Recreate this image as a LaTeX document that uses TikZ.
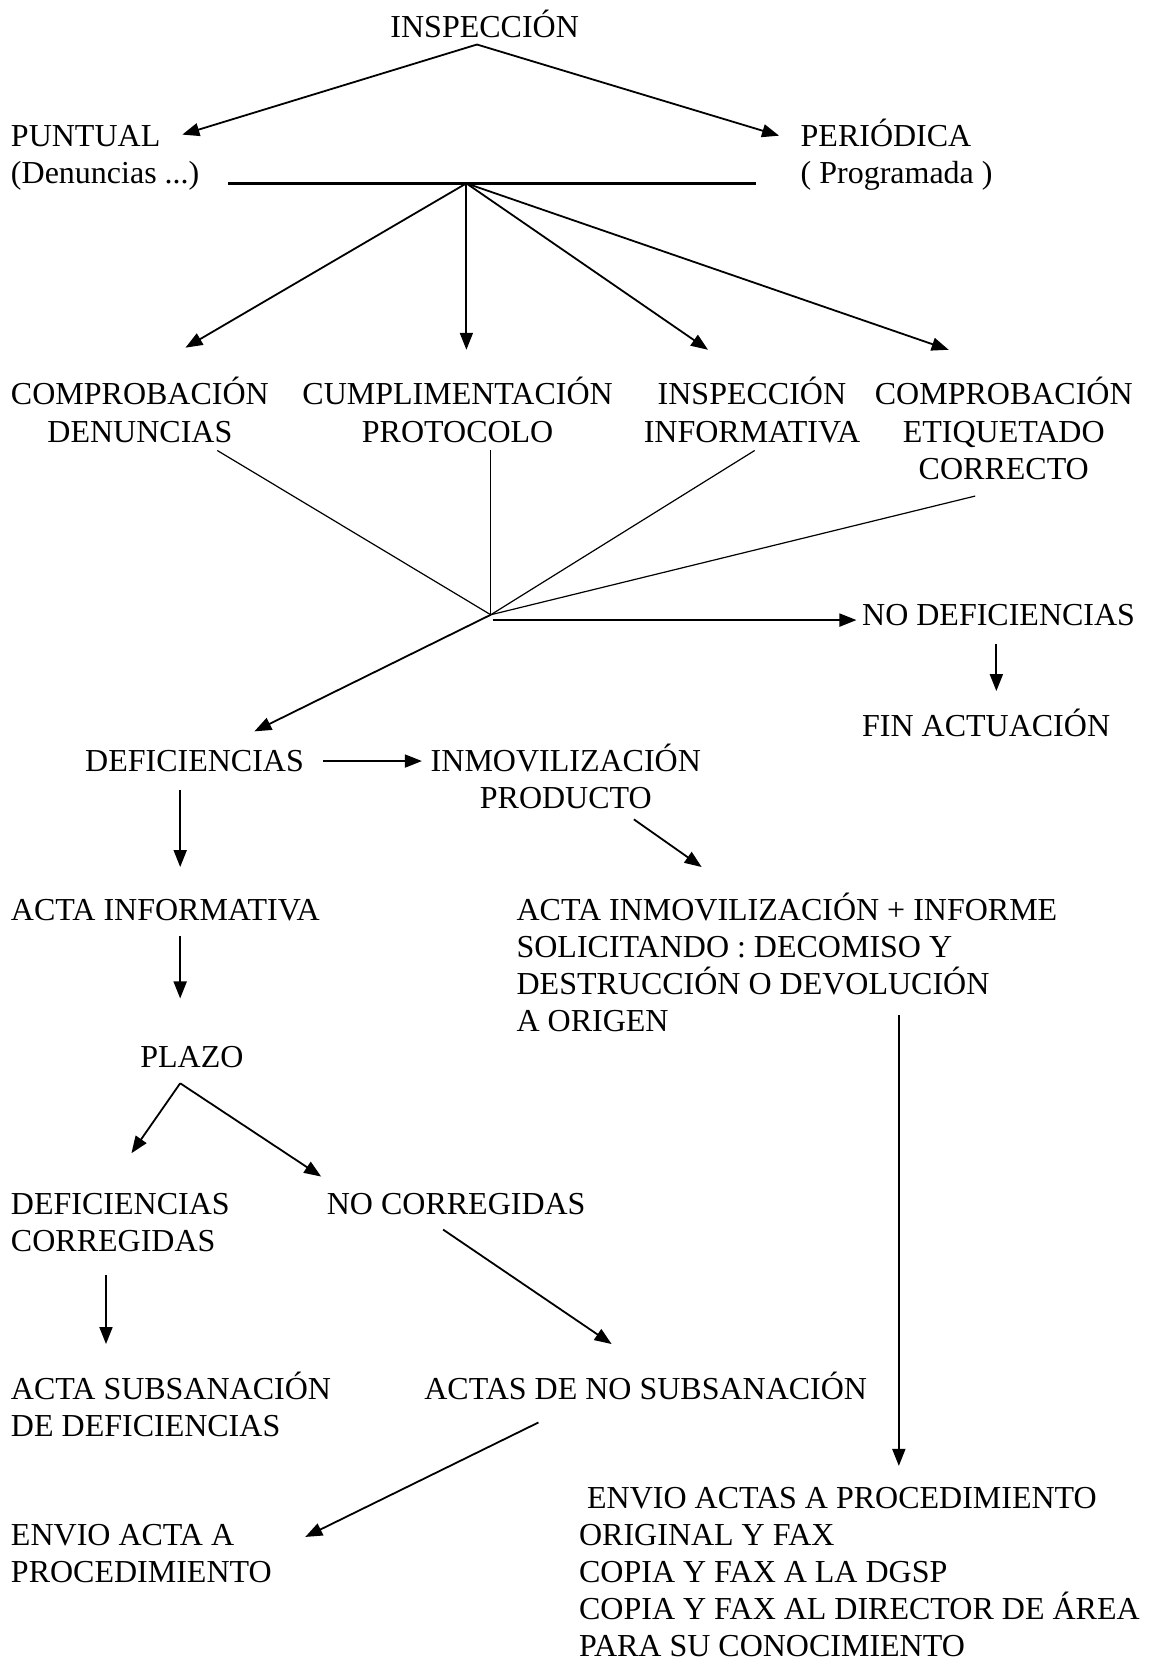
\documentclass[tikz,border=0pt]{standalone}
\usepackage{fontspec}
\setmainfont{Liberation Serif}
\usetikzlibrary{arrows.meta,calc}
\tikzset{
  txt/.style={anchor=base west,inner sep=0pt,font=\fontsize{16}{18.55}\selectfont},
  arr/.style={-{Triangle[length=8.5pt,width=6.5pt]},line width=0.9pt},
  thin/.style={line width=0.6pt},
}

\begin{document}
\begin{tikzpicture}[x=0.53pt,y=-0.53pt]
  \useasboundingbox (0,0) rectangle (1085,1568);
  % top levels (multi-line nodes sit on their last line)
  \node[txt] (insp) at (368,35) {INSPECCIÓN};
  \node[txt,align=left] (puntual) at (10,173) {PUNTUAL\\(Denuncias ...)};
  \node[txt,align=left] (periodica) at (755,173) {PERIÓDICA\\( Programada )};
  \draw[arr] ($(insp.base west)+(82,7)$) -- ($(puntual.base west)+(162,-46)$);
  \draw[arr] ($(insp.base west)+(82,7)$) -- ($(periodica.base west)+(-20,-45)$);
  % common bar
  \coordinate (barL) at ($(puntual.base west)+(205,0)$);
  \coordinate (barR) at ($(periodica.base west)+(-42,0)$);
  \coordinate (hubA) at (440,173);
  \draw[line width=1.3pt] (barL) -- (barR);
  % kinds of visit
  \node[txt,align=center] (compden) at (10,417) {COMPROBACIÓN\\DENUNCIAS};
  \node[txt,align=center] (cumpl) at (285,417) {CUMPLIMENTACIÓN\\PROTOCOLO};
  \node[txt,align=center] (inspinf) at (607,417) {INSPECCIÓN\\INFORMATIVA};
  \node[txt,align=center] (compet) at (825,452) {COMPROBACIÓN\\ETIQUETADO\\CORRECTO};
  \draw[arr] (hubA) -- ($(compden.base west)+(165,-89)$);
  \draw[arr] (hubA) -- ($(cumpl.base west)+(155,-87)$);
  \draw[arr] (hubA) -- ($(inspinf.base west)+(61,-87)$);
  \draw[arr] (hubA) -- ($(compet.base west)+(70,-122)$);
  % result
  \coordinate (hubB) at (463,580);
  \draw[thin] ($(compden.base west)+(195,8)$) -- (hubB);
  \draw[thin] ($(cumpl.base west)+(178,8)$) -- (hubB);
  \draw[thin] ($(inspinf.base west)+(105,8)$) -- (hubB);
  \draw[thin] ($(compet.base west)+(95,16)$) -- (hubB);
  \node[txt] (nodef) at (813,590) {NO DEFICIENCIAS};
  \node[txt] (fin) at (813,695) {FIN ACTUACIÓN};
  \node[txt] (defic) at (80,728) {DEFICIENCIAS};
  \node[txt,align=center] (inmov) at (406,763) {INMOVILIZACIÓN\\PRODUCTO};
  \draw[arr] ($(hubB)+(2,5)$) -- ($(nodef.base west)+(-5,-5)$);
  \draw[arr] ($(nodef.base west)+(127,18)$) -- ($(fin.base west)+(127,-43)$);
  \draw[arr] (hubB) -- ($(defic.base west)+(160,-38)$);
  \draw[arr] ($(defic.base west)+(225,-10)$) -- ($(inmov.base west)+(-8,-45)$);
  % left branch
  \node[txt] (actainf) at (10,868) {ACTA INFORMATIVA};
  \node[txt] (plazo) at (132,1007) {PLAZO};
  \node[txt,align=left] (defcorr) at (10,1181) {DEFICIENCIAS\\CORREGIDAS};
  \node[txt] (nocorr) at (308,1146) {NO CORREGIDAS};
  \node[txt,align=left] (actasub) at (10,1355) {ACTA SUBSANACIÓN\\DE DEFICIENCIAS};
  \node[txt] (actasno) at (400,1320) {ACTAS DE NO SUBSANACIÓN};
  \node[txt,align=left] (envio) at (10,1493) {ENVIO ACTA A\\PROCEDIMIENTO};
  \draw[arr] ($(defic.base west)+(90,17)$) -- ($(actainf.base west)+(160,-50)$);
  \draw[arr] ($(actainf.base west)+(160,15)$) -- ($(plazo.base west)+(38,-65)$);
  \draw[arr] ($(plazo.base west)+(38,15)$) -- ($(defcorr.base west)+(114,-93)$);
  \draw[arr] ($(plazo.base west)+(38,15)$) -- ($(nocorr.base west)+(-5,-36)$);
  \draw[arr] ($(defcorr.base west)+(90,22)$) -- ($(actasub.base west)+(90,-87)$);
  \draw[arr] ($(nocorr.base west)+(110,14)$) -- ($(actasno.base west)+(177,-52)$);
  \draw[arr] ($(actasno.base west)+(108,22)$) -- ($(envio.base west)+(278,-43)$);
  % right branch
  \node[txt,align=left] (actainm) at (487,973) {ACTA INMOVILIZACIÓN + INFORME\\SOLICITANDO : DECOMISO Y\\DESTRUCCIÓN O DEVOLUCIÓN\\A ORIGEN};
  \node[txt,align=left] (envios) at (546,1563) {\hspace*{0.25em}ENVIO ACTAS A PROCEDIMIENTO\\ORIGINAL Y FAX\\COPIA Y FAX A LA DGSP\\COPIA Y FAX AL DIRECTOR DE ÁREA\\PARA SU CONOCIMIENTO};
  \draw[arr] ($(inmov.base west)+(192,10)$) -- ($(actainm.base west)+(175,-155)$);
  \draw[arr] ($(actainm.base west)+(361,-15)$) -- ($(envios.base west)+(302,-180)$);
\end{tikzpicture}
\end{document}
